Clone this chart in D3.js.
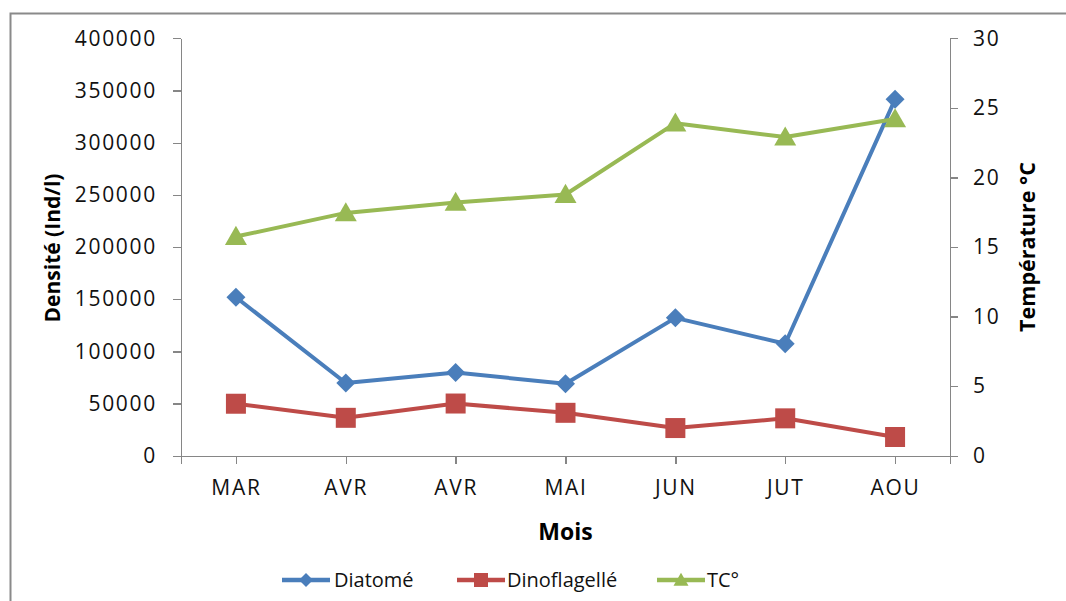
<!DOCTYPE html>
<html>
<head>
<meta charset="utf-8">
<script src="https://cdn.jsdelivr.net/npm/d3@7/dist/d3.min.js"></script>
<style>
  html, body { margin: 0; padding: 0; background: #fff; }
  svg { display: block; }
  .tick text { font-family: "Open Sans", sans-serif; font-size: 21px; letter-spacing: 1.7px; fill: #111; }
  .axis path, .axis line { stroke: #868686; stroke-width: 1.3px; shape-rendering: crispEdges; }
  .title { font-family: "Open Sans", sans-serif; font-weight: bold; fill: #000; }
  .legend text { font-family: "Open Sans", sans-serif; font-size: 20px; fill: #111; }
</style>
</head>
<body>
<svg id="chart" width="1066" height="601"></svg>
<script>
// Monthly phytoplankton density (Ind/l) and water temperature (°C)
const months = ["MAR", "AVR", "AVR", "MAI", "JUN", "JUT", "AOU"];
const diatome = [151800, 69700, 79700, 68900, 132100, 107300, 341500];
const dinoflagelle = [49800, 36300, 50000, 41100, 26500, 35800, 17900];
const temperature = [15.75, 17.45, 18.2, 18.77, 23.9, 22.9, 24.2];
const densityTicks = [0, 50000, 100000, 150000, 200000, 250000, 300000, 350000, 400000];
const tempTicks = [0, 5, 10, 15, 20, 25, 30];

const seriesNames = ["Diatomé", "Dinoflagellé", "TC°"];
const seriesColors = ["#4a7ebb", "#be4b48", "#98b954"];

const svg = d3.select("#chart");

// outer frame
svg.append("rect")
  .attr("x", 10.5).attr("y", 13.5)
  .attr("width", 1080).attr("height", 620)
  .attr("fill", "none").attr("stroke", "#8a8a8a").attr("stroke-width", 2);

const plotLeft = 181, plotRight = 950, plotTop = 38.3, plotBottom = 455.7;

const x = d3.scalePoint().domain(d3.range(months.length)).range([plotLeft, plotRight]).padding(0.5);
const yL = d3.scaleLinear().domain([0, 400000]).range([plotBottom, plotTop]);
const yR = d3.scaleLinear().domain([0, 30]).range([plotBottom, plotTop]);

// axes
svg.append("g").attr("class", "axis")
  .attr("transform", `translate(${plotLeft},0)`)
  .call(d3.axisLeft(yL).tickValues(densityTicks).tickSize(8).tickSizeOuter(0).tickPadding(16).tickFormat(d3.format("d")));

svg.append("g").attr("class", "axis")
  .attr("transform", `translate(${plotRight},0)`)
  .call(d3.axisRight(yR).tickValues(tempTicks).tickSize(8).tickSizeOuter(0).tickPadding(15).tickFormat(d3.format("d")));

svg.append("g").attr("class", "axis")
  .attr("transform", `translate(0,${plotBottom})`)
  .call(d3.axisBottom(x).tickSize(8).tickSizeOuter(8).tickPadding(16).tickFormat(i => months[i]));

// axis titles
svg.append("text").attr("class", "title")
  .attr("font-size", 21)
  .attr("transform", `translate(60,${(plotTop + plotBottom) / 2 + 1}) rotate(-90)`)
  .attr("text-anchor", "middle").text("Densité (Ind/l)");

svg.append("text").attr("class", "title")
  .attr("font-size", 21.5)
  .attr("transform", `translate(1035,${(plotTop + plotBottom) / 2}) rotate(-90)`)
  .attr("text-anchor", "middle").text("Température °C");

svg.append("text").attr("class", "title")
  .attr("font-size", 23)
  .attr("x", (plotLeft + plotRight) / 2).attr("y", 540)
  .attr("text-anchor", "middle").text("Mois");

// marker shapes: diamond, square, triangle
function markerPath(k, size) {
  if (k === 0) return d3.symbol().type(d3.symbolSquare).size(size * size / 2)();
  if (k === 1) return d3.symbol().type(d3.symbolSquare).size(size * size)();
  return d3.symbol().type(d3.symbolTriangle).size(size * size * 0.433)();
}
function markerTransform(k) {
  return k === 0 ? " rotate(45)" : "";
}

const series = [
  { values: diatome, scale: yL },
  { values: dinoflagelle, scale: yL },
  { values: temperature, scale: yR }
];

const markerSizes = [19, 20, 22];

series.forEach((s, k) => {
  const line = d3.line().x((d, i) => x(i)).y(d => s.scale(d));
  svg.append("path")
    .datum(s.values)
    .attr("d", line)
    .attr("fill", "none")
    .attr("stroke", seriesColors[k])
    .attr("stroke-width", 4)
    .attr("stroke-linejoin", "round");
});

series.forEach((s, k) => {
  svg.append("g").selectAll("path")
    .data(s.values)
    .join("path")
    .attr("d", markerPath(k, markerSizes[k]))
    .attr("transform", (d, i) => `translate(${x(i)},${s.scale(d) + (k === 2 ? 2 : 0)})${markerTransform(k)}`)
    .attr("fill", seriesColors[k]);
});

// legend
const legendItems = [
  { lx: 282, tx: 334 },
  { lx: 457, tx: 507 },
  { lx: 657, tx: 707 }
];
const ly = 580;
const lg = svg.append("g").attr("class", "legend");
legendItems.forEach((it, k) => {
  lg.append("line")
    .attr("x1", it.lx).attr("x2", it.lx + 48)
    .attr("y1", ly).attr("y2", ly)
    .attr("stroke", seriesColors[k]).attr("stroke-width", 4.5);
  lg.append("path")
    .attr("d", markerPath(k, k === 2 ? 15 : 14))
    .attr("transform", `translate(${it.lx + 24},${ly + (k === 2 ? 1.5 : 0)})${markerTransform(k)}`)
    .attr("fill", seriesColors[k]);
  lg.append("text")
    .attr("x", it.tx).attr("y", ly + 7)
    .text(seriesNames[k]);
});
</script>
</body>
</html>
